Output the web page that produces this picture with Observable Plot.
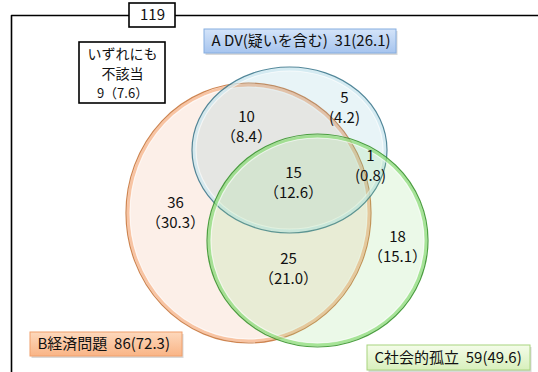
<!DOCTYPE html>
<html>
<head>
<meta charset="utf-8">
<script src="https://cdn.jsdelivr.net/npm/d3@7"></script>
<script src="https://cdn.jsdelivr.net/npm/@observablehq/plot@0.6"></script>
<style>
  html, body { margin: 0; padding: 0; background: #fff; }
  #chart svg { display: block; }
</style>
</head>
<body>
<div id="chart"></div>
<script>
// ---- data ----
const total = 119;
const setNames = ["A DV(疑いを含む)", "B経済問題", "C社会的孤立"];
const setCounts = [31, 86, 59];
const setPercents = [26.1, 72.3, 49.6];

const regionKeys = ["A", "AB", "AC", "ABC", "B", "BC", "C"];
const regionCounts = [5, 10, 1, 15, 36, 25, 18];
const regionPercents = [4.2, 8.4, 0.8, 12.6, 30.3, 21.0, 15.1];

const noneLabel = ["いずれにも", "不該当"];
const noneCount = 9;
const nonePercent = 7.6;

// ---- layout (chart units = pixels of a 538 x 372 canvas) ----
const W = 538, H = 372;
const ellipseLayout = [
  {set: 1, cx: 248.5, cy: 213, rx: 122.5, ry: 130, fill: "#f2b08a", alpha: 0.2, rim: "#f7b68c", edge: "#c9783e"},
  {set: 0, cx: 289.5, cy: 150, rx: 97.5, ry: 83, fill: "#6db8d0", alpha: 0.16, rim: "#cfe8f0", edge: "#3f7a8e"},
  {set: 2, cx: 317.5, cy: 240.5, rx: 110.5, ry: 106.5, fill: "#8fe07f", alpha: 0.18, rim: "#8fdc7c", edge: "#3a962e"}
];
const regionPos = {
  A:   [344, 98],
  AB:  [246, 117],
  AC:  [370, 156],
  ABC: [293, 173],
  B:   [175, 203],
  BC:  [288, 259],
  C:   [397, 237]
};
const tightParens = new Set(["A", "AC"]);

const setBoxes = [
  {set: 0, x1: 204, x2: 396, y1: 29, y2: 53, fill: "url(#gradA)", stroke: "#86aee0"},
  {set: 1, x1: 30, x2: 182, y1: 332, y2: 356, fill: "url(#gradB)", stroke: "#f0a06c"},
  {set: 2, x1: 367, x2: 530, y1: 345, y2: 370, fill: "url(#gradC)", stroke: "#a8d47e"}
];
const noneBox = {x1: 79, x2: 165, y1: 42, y2: 103, cx: 122};
const noneLineY = [54, 74, 93];
const totalBox = {x1: 129, x2: 175, y1: 3, y2: 27};
const framePath = [
  {x: 11, y: H + 2}, {x: 11, y: 15}, {x: W + 2, y: 15}
];

// ---- derived tables ----
const regions = regionKeys.map((k, i) => ({
  key: k,
  x: regionPos[k][0],
  y: regionPos[k][1],
  count: regionCounts[i],
  pct: regionPercents[i],
  pctText: tightParens.has(k)
    ? `(${regionPercents[i].toFixed(1)})`
    : `（${regionPercents[i].toFixed(1)}）`
}));
const boxes = setBoxes.map(b => ({
  ...b,
  label: `${setNames[b.set]}\u00a0\u00a0${setCounts[b.set]}(${setPercents[b.set].toFixed(1)})`
}));

const FONT = "'Noto Sans CJK JP', 'Noto Sans', sans-serif";

// gradient definitions used by the label boxes
function defsRender() {
  const svg = d3.create("svg:g");
  const defs = svg.append("defs");
  const grads = [
    ["gradA", "#d4e4f9", "#a6c4ee"],
    ["gradB", "#fdd8bc", "#f9b486"],
    ["gradC", "#f4fce9", "#d8f0bc"]
  ];
  for (const [id, c0, c1] of grads) {
    const lg = defs.append("linearGradient").attr("id", id)
      .attr("x1", 0).attr("y1", 0).attr("x2", 0).attr("y2", 1);
    lg.append("stop").attr("offset", "0%").attr("stop-color", c0);
    lg.append("stop").attr("offset", "100%").attr("stop-color", c1);
  }
  return svg.node();
}

// ellipse mark drawn through the x/y scales
function ellipseRender(index, scales) {
  const g = d3.create("svg:g");
  for (const i of index) {
    const d = ellipseLayout[i];
    const cx = scales.x(d.cx), cy = scales.y(d.cy);
    const rx = scales.x(d.cx + d.rx) - cx;
    const ry = scales.y(d.cy + d.ry) - cy;
    g.append("ellipse").attr("cx", cx).attr("cy", cy).attr("rx", rx).attr("ry", ry)
      .attr("fill", d.fill).attr("fill-opacity", d.alpha);
    // glossy rim
    g.append("ellipse").attr("cx", cx).attr("cy", cy).attr("rx", rx - 2.2).attr("ry", ry - 2.2)
      .attr("fill", "none").attr("stroke", d.rim).attr("stroke-width", 3).attr("stroke-opacity", 0.75);
    g.append("ellipse").attr("cx", cx).attr("cy", cy).attr("rx", rx - 4).attr("ry", ry - 4)
      .attr("fill", "none").attr("stroke", "#fff").attr("stroke-width", 1.2).attr("stroke-opacity", 0.6);
    g.append("ellipse").attr("cx", cx).attr("cy", cy).attr("rx", rx).attr("ry", ry)
      .attr("fill", "none").attr("stroke", d.edge).attr("stroke-width", 1.2).attr("stroke-opacity", 0.9);
  }
  return g.node();
}

const boxMarks = boxes.flatMap(b => [
  // soft drop shadow
  Plot.rect([b], {x1: "x1", x2: "x2", y1: "y1", y2: "y2", dx: 1.5, dy: 2, fill: "#000", fillOpacity: 0.15}),
  Plot.rect([b], {x1: "x1", x2: "x2", y1: "y1", y2: "y2", fill: b.fill, stroke: b.stroke, strokeWidth: 1}),
  Plot.text([b], {x: d => d.x1 + 7, y: d => (d.y1 + d.y2) / 2, text: "label", textAnchor: "start", fontSize: 15, fill: "#111"})
]);

const chart = Plot.plot({
  width: W,
  height: H,
  margin: 0,
  x: {domain: [0, W], range: [0, W], axis: null},
  y: {domain: [0, H], range: [0, H], axis: null},
  style: {fontFamily: FONT, background: "#fff"},
  marks: [
    Plot.dot([0], {x: () => 0, y: () => 0, render: defsRender}),
    // outer frame
    Plot.line(framePath, {x: "x", y: "y", stroke: "#000", strokeWidth: 1.6}),
    // sets
    Plot.dot(ellipseLayout, {x: "cx", y: "cy", render: ellipseRender}),
    // region values
    Plot.text(regions, {x: "x", y: "y", text: d => String(d.count), fontSize: 15, fill: "#111"}),
    Plot.text(regions, {x: "x", y: d => d.y + 20, text: "pctText", fontSize: 15, fill: "#111"}),
    // total box
    Plot.rect([totalBox], {x1: "x1", x2: "x2", y1: "y1", y2: "y2", fill: "#fff", stroke: "#000", strokeWidth: 1.6}),
    Plot.text([totalBox], {x: d => (d.x1 + d.x2) / 2, y: d => (d.y1 + d.y2) / 2, text: () => String(total), fontSize: 15, fill: "#111"}),
    // "none" box
    Plot.rect([noneBox], {x1: "x1", x2: "x2", y1: "y1", y2: "y2", fill: "#fff", stroke: "#000", strokeWidth: 1.6}),
    Plot.text(noneLabel, {x: noneBox.cx, y: (d, i) => noneLineY[i], text: d => d, fontSize: 14, fill: "#111"}),
    Plot.text([noneCount], {x: noneBox.cx, y: noneLineY[2], text: d => `${d}（${nonePercent.toFixed(1)}）`, fontSize: 13, fill: "#111"}),
    // set label boxes
    ...boxMarks
  ]
});
document.getElementById("chart").append(chart);
</script>
</body>
</html>
